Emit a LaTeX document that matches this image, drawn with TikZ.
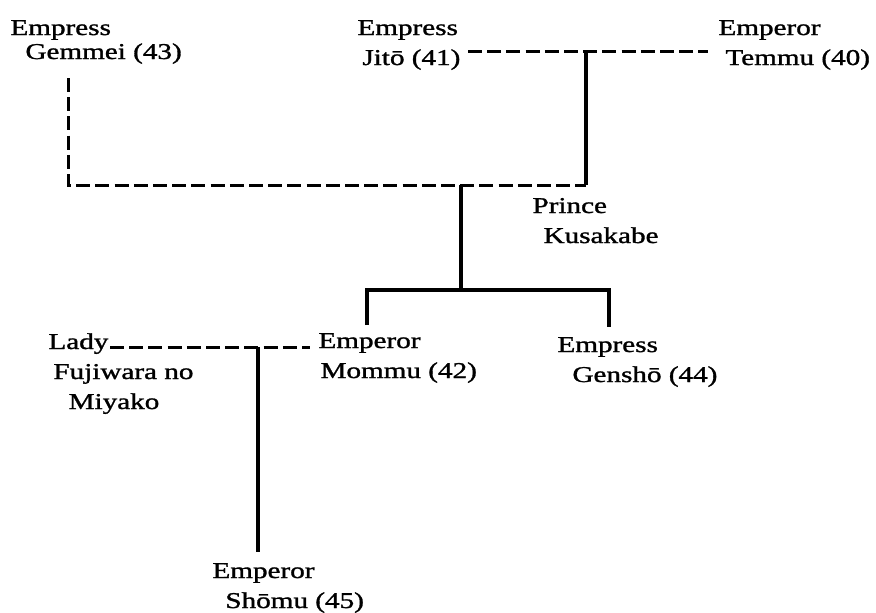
\documentclass[tikz,border=0pt]{standalone}
\usepackage{fontspec}
\setmainfont[BoldFont=Liberation Serif, BoldFeatures={FakeBold=1.1}]{Liberation Serif}
\usepackage{tikz}

\tikzset{
  person/.style={anchor=base west, align=left, inner sep=0pt, xscale=1.29, transform shape,
    font=\fontsize{11.3}{15}\selectfont\bfseries},
  marriage/.style={line width=1.5pt, dash pattern=on 7pt off 2.6pt},
  descent/.style={line width=1.8pt},
}

\begin{document}
\begin{tikzpicture}[x=0.5pt,y=-0.5pt]
		\useasboundingbox (0,0) rectangle (876,612);
		% people (placed at the baseline of their last line)
		\node[person,font=\fontsize{11.3}{12}\selectfont\bfseries] (Gemmei) at (10,59) {Empress\\\hspace*{5.8pt}Gemmei (43)};
		\node[person] (Jito) at (357,65) {Empress\\\hspace*{1.9pt}Jitō (41)};
		\node[person] (Temmu) at (718,65) {Emperor\\\hspace*{2.7pt}Temmu (40)};
		\node[person] (Kusakabe) at (532,243) {Prince\\\hspace*{4.3pt}Kusakabe};
		\node[person] (Lady) at (48,409) {Lady\\\hspace*{1.9pt}Fujiwara no\\\hspace*{7.8pt}Miyako};
		\node[person] (Mommu) at (318,378) {Emperor\\\hspace*{0.8pt}Mommu (42)};
		\node[person] (Gensho) at (557,382) {Empress\\\hspace*{5.8pt}Genshō (44)};
		\node[person] (Shomu) at (212,608) {Emperor\\\hspace*{5pt}Shōmu (45)};

		\coordinate (JT0) at (468,51);
		\coordinate (JT1) at (708,51);
		\coordinate (JT) at (586,51);
		\coordinate (GJ0) at (68,78);
		\coordinate (GJ1) at (68,185);
		\coordinate (GJ) at (586,185);
		\coordinate (K0) at (461,185);
		\coordinate (K1) at (461,290);
		\coordinate (MG0) at (367,325);
		\coordinate (MG1) at (367,290);
		\coordinate (MG2) at (609,290);
		\coordinate (MG3) at (609,327);
		\coordinate (LM0) at (110,347);
		\coordinate (LM1) at (310,347);
		\coordinate (LM) at (258,347);
		\coordinate (S0) at (258,552);

		% marriages
		\draw[marriage] (JT0) -- (JT1);
		\draw[marriage] (GJ0) -- (GJ1) -- (GJ);
		\draw[marriage] (LM0) -- (LM1);
		% descent
		\draw[descent] (JT) -- (GJ);
		\draw[descent] (K0) -- (K1);
		\draw[descent] (MG0) -- (MG1) -- (MG2) -- (MG3);
		\draw[descent] (LM) -- (S0);
	    \end{tikzpicture}
\end{document}
